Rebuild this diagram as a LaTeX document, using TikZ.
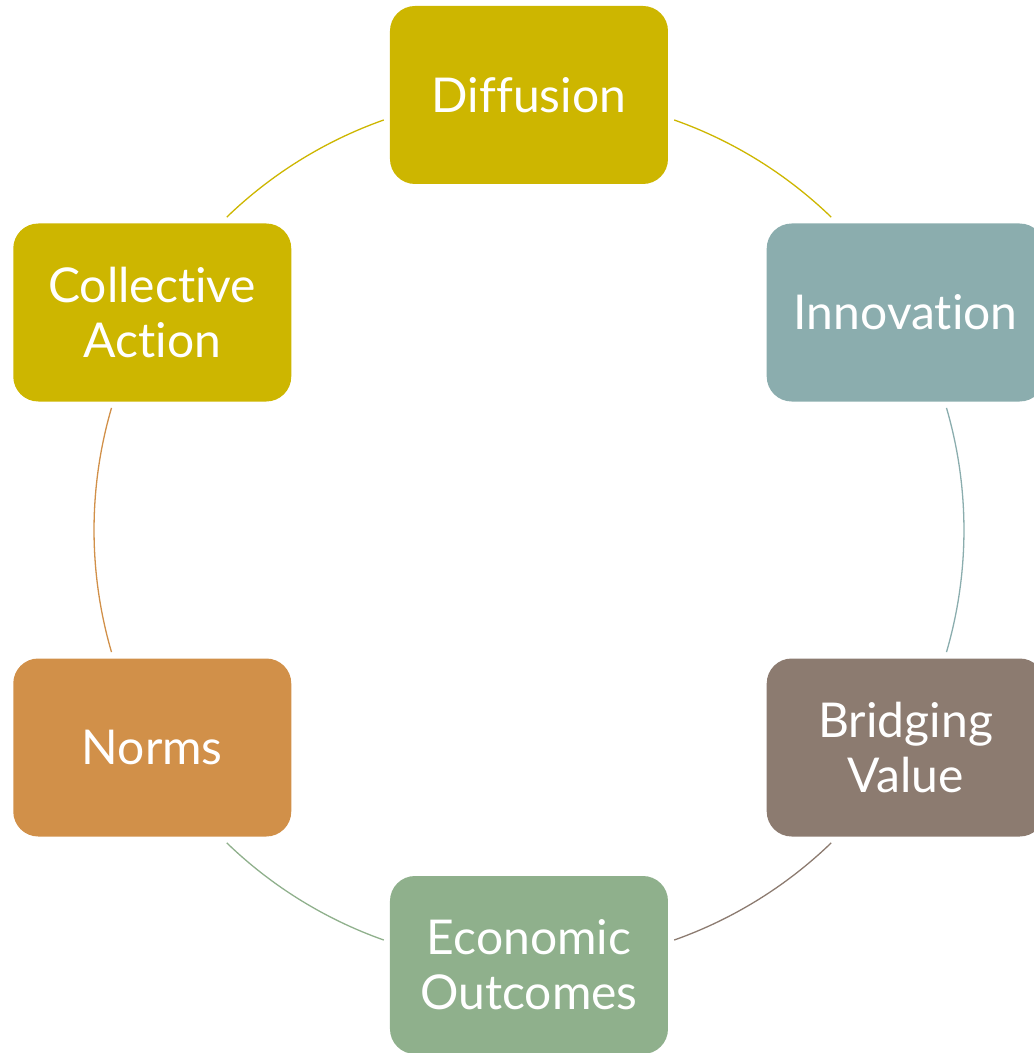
\documentclass[tikz,border=0pt]{standalone}
\usepackage{fontspec}
\setmainfont{Lato}[Ligatures={NoCommon}]
\definecolor{cgold}{RGB}{205,182,0}
\definecolor{cteal}{RGB}{139,173,174}
\definecolor{cbrown}{RGB}{140,123,112}
\definecolor{cgreen}{RGB}{143,176,140}
\definecolor{corange}{RGB}{209,144,73}
\begin{document}
\begin{tikzpicture}[x=1pt,y=1pt,
  box/.style={rounded corners=25pt, minimum width=278pt, minimum height=178pt,
    text=white, align=center, inner sep=0pt,
    font=\fontsize{48}{55}\selectfont},
  link/.style={line width=1.3pt}]
\useasboundingbox (-529,-523) rectangle (505,530);
\clip (-529,-523) rectangle (505,530);
\coordinate (c) at (0,0);
\node[box, fill=cgold]   (dif) at (90:435)  {Diffusion};
\node[box, fill=cteal]   (inn) at (30:435)  {Innovation};
\node[box, fill=cbrown]  (bri) at (-30:435) {Bridging\\Value};
\node[box, fill=cgreen]  (eco) at (-90:435) {Economic\\Outcomes};
\node[box, fill=corange] (nor) at (210:435) {Norms};
\node[box, fill=cgold]   (col) at (150:435) {Collective\\Action};
\draw[link, cgold]   (70.5:435)  arc[start angle=70.5,  end angle=46,    radius=435];
\draw[link, cteal]   (16.3:435)  arc[start angle=16.3,  end angle=-16.3, radius=435];
\draw[link, cbrown]  (-46:435)   arc[start angle=-46,   end angle=-70.5, radius=435];
\draw[link, cgreen]  (-109.5:435) arc[start angle=-109.5, end angle=-134, radius=435];
\draw[link, corange] (196.3:435) arc[start angle=196.3, end angle=163.7, radius=435];
\draw[link, cgold]   (134:435)   arc[start angle=134,   end angle=109.5, radius=435];
\end{tikzpicture}
\end{document}
